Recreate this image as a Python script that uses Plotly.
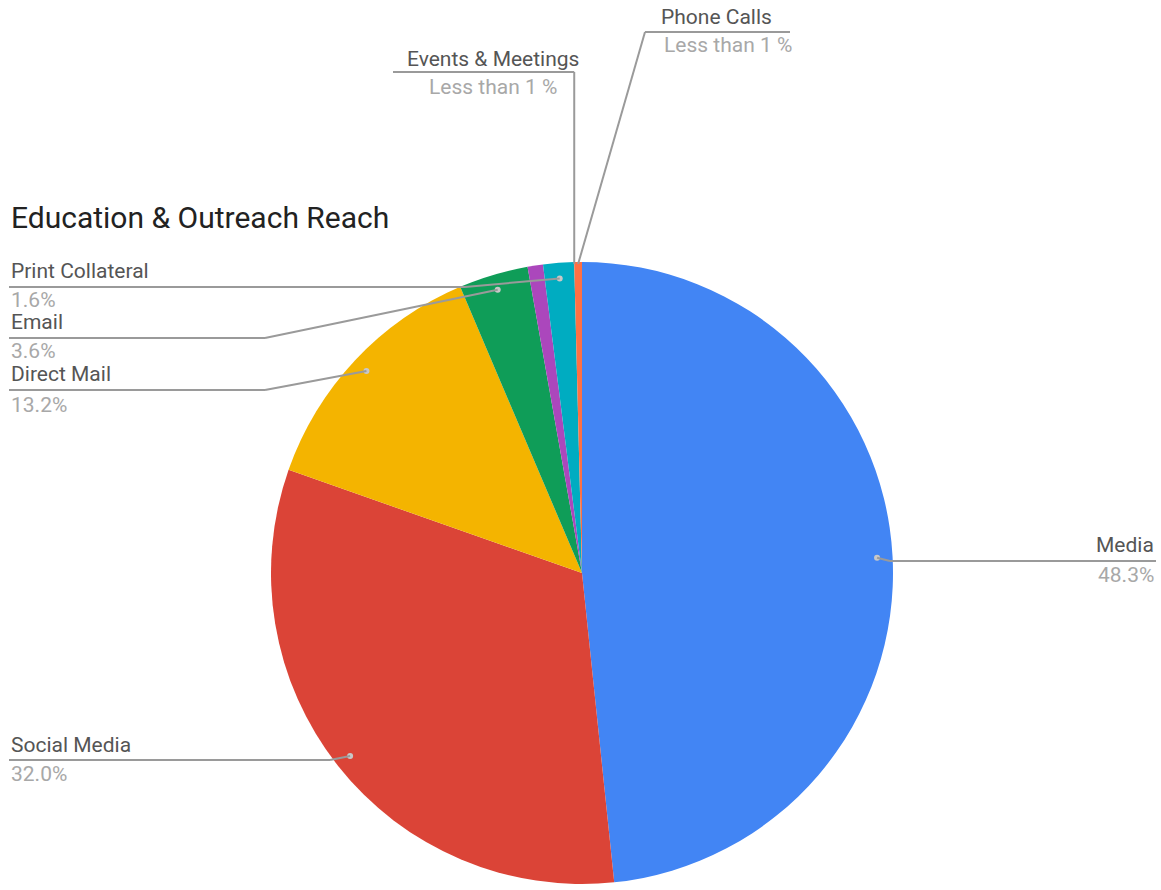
import math
import plotly.graph_objects as go

# ---- data ----
categories = ["Media", "Social Media", "Direct Mail", "Email",
              "Events & Meetings", "Print Collateral", "Phone Calls"]
values = [48.3, 32.0, 13.2, 3.6, 0.8, 1.6, 0.4]
pct_labels = ["48.3%", "32.0%", "13.2%", "3.6%", "Less than 1 %", "1.6%", "Less than 1 %"]
colors = ["#4285F4", "#DB4437", "#F4B400", "#0F9D58", "#AB47BC", "#00ACC1", "#FF7043"]
title_text = "Education & Outreach Reach"

# ---- layout geometry (pixels) ----
W, H = 1161, 890
CX, CY, R = 582, 573, 311


def X(px):
    return px / W


def Y(py):
    return 1 - py / H


# label layout: text x, anchor, name y, pct y, line y, outer line end x, elbow x, target kind
label_layout = {
    "Media":             dict(tx=1156, xa="right", ny=545, py=575, ly=561, lx=1156, ex=890, kind="mid"),
    "Social Media":      dict(tx=9, xa="left", ny=745, py=774, ly=760, lx=9, ex=330, kind="mid"),
    "Direct Mail":       dict(tx=9, xa="left", ny=374, py=405, ly=390, lx=9, ex=265, kind="mid"),
    "Email":             dict(tx=9, xa="left", ny=322, py=351, ly=338, lx=9, ex=265, kind="mid"),
    "Print Collateral":  dict(tx=9, xa="left", ny=271, py=300, ly=287, lx=9, ex=465, kind="mid"),
    "Events & Meetings": dict(tx=493, xa="center", ny=59, py=87, ly=72, lx=393, ex=None, kind="start_next"),
    "Phone Calls":       dict(tx=716, xa="center", ny=17, py=45, ly=32, lx=790, ex=645, kind="edge_mid"),
}
pct_x_override = {"Phone Calls": 728}

total = sum(values)
cum = [0.0]
for v in values:
    cum.append(cum[-1] + v / total)

fig = go.Figure()
fig.add_trace(go.Pie(
    labels=categories, values=values, sort=False, direction="clockwise", rotation=0,
    marker=dict(colors=colors, line=dict(width=0)),
    textinfo="none", hoverinfo="label+percent", showlegend=False,
    domain=dict(x=[X(CX - R), X(CX + R)], y=[Y(CY + R), Y(CY - R)]),
))

shapes = []
annotations = []
line_col = "#9a9a9a"


def pt(frac, rr):
    a = 2 * math.pi * frac
    return CX + rr * math.sin(a), CY - rr * math.cos(a)


for i, cat in enumerate(categories):
    L = label_layout[cat]
    if L["kind"] == "mid":
        tx_, ty_ = pt((cum[i] + cum[i + 1]) / 2, 0.95 * R)
        shapes.append(dict(type="circle", xref="paper", yref="paper",
                           x0=X(tx_ - 3), x1=X(tx_ + 3), y0=Y(ty_ + 3), y1=Y(ty_ - 3),
                           fillcolor="#c8c8c8", line=dict(width=0), layer="above"))
    elif L["kind"] == "edge_mid":
        tx_, ty_ = pt((cum[i] + cum[i + 1]) / 2, R - 2)
    else:
        tx_, ty_ = pt(cum[i + 2], R - 2)
    ex = L["ex"] if L["ex"] is not None else tx_
    # horizontal segment
    shapes.append(dict(type="line", xref="paper", yref="paper",
                       x0=X(L["lx"]), x1=X(ex), y0=Y(L["ly"]), y1=Y(L["ly"]),
                       line=dict(color=line_col, width=2)))
    # slanted segment to slice
    shapes.append(dict(type="line", xref="paper", yref="paper",
                       x0=X(ex), x1=X(tx_), y0=Y(L["ly"]), y1=Y(ty_),
                       line=dict(color=line_col, width=2)))
    annotations.append(dict(x=X(L["tx"]), y=Y(L["ny"]), xref="paper", yref="paper",
                            text=cat, showarrow=False, xanchor=L["xa"], yanchor="middle",
                            font=dict(family="Roboto", size=21, color="#555555")))
    annotations.append(dict(x=X(pct_x_override.get(cat, L["tx"])), y=Y(L["py"]),
                            xref="paper", yref="paper",
                            text=pct_labels[i], showarrow=False, xanchor=L["xa"], yanchor="middle",
                            font=dict(family="Roboto", size=21, color="#a8a8a8")))

annotations.append(dict(x=X(9), y=Y(217), xref="paper", yref="paper", text=title_text,
                        showarrow=False, xanchor="left", yanchor="middle",
                        font=dict(family="Roboto", size=30, color="#222222")))

fig.update_layout(
    width=W, height=H, margin=dict(l=0, r=0, t=0, b=0),
    paper_bgcolor="white", plot_bgcolor="white",
    shapes=shapes, annotations=annotations,
)

fig.write_html("out.html")
